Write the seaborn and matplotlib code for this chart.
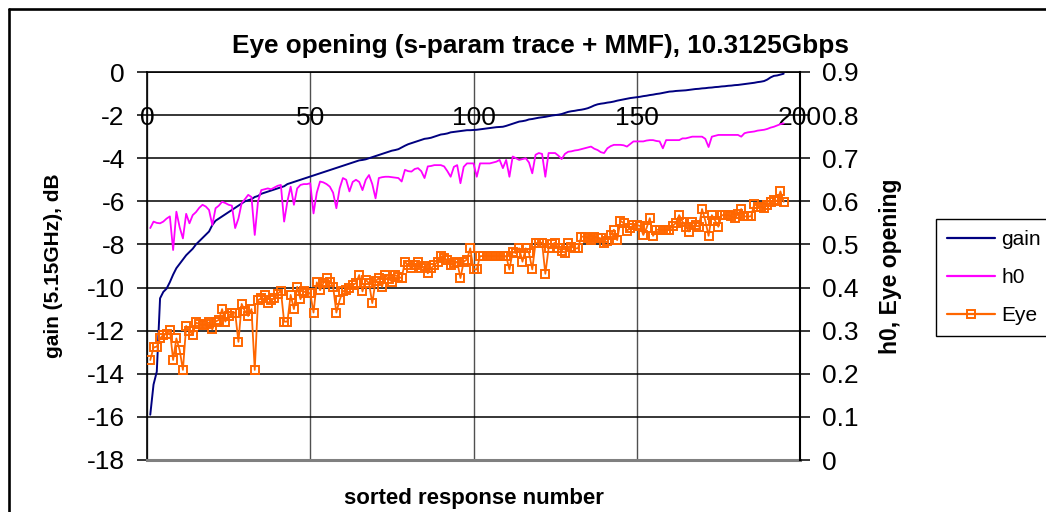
import matplotlib
matplotlib.use("Agg")
import matplotlib.pyplot as plt
import seaborn as sns
import pandas as pd
from matplotlib.lines import Line2D

# ---------------- data ----------------
title = "Eye opening (s-param trace + MMF), 10.3125Gbps"
x_label = "sorted response number"
left_label = "gain (5.15GHz), dB"
right_label = "h0, Eye opening"
series_names = ["gain", "h0", "Eye"]

x_ticks = [0, 50, 100, 150, 200]
gain_ticks = [0, -2, -4, -6, -8, -10, -12, -14, -16, -18]
right_ticks = [0, 0.1, 0.2, 0.3, 0.4, 0.5, 0.6, 0.7, 0.8, 0.9]
right_tick_labels = ["0", "0.1", "0.2", "0.3", "0.4", "0.5", "0.6", "0.7", "0.8", "0.9"]

gain = [
    -15.9, -14.5, -13.9, -10.5, -10.2, -10.05, -9.75, -9.4, -9.1, -8.9,
    -8.7, -8.5, -8.35, -8.2, -8.0, -7.85, -7.7, -7.55, -7.4, -7.1,
    -6.9, -6.8, -6.7, -6.6, -6.5, -6.4, -6.3, -6.2, -6.1, -6.0,
    -5.95, -5.9, -5.8, -5.75, -5.65, -5.6, -5.55, -5.5, -5.45, -5.4,
    -5.35, -5.3, -5.2, -5.15, -5.1, -5.05, -5.0, -4.95, -4.9, -4.85,
    -4.8, -4.75, -4.7, -4.65, -4.6, -4.55, -4.5, -4.45, -4.4, -4.35,
    -4.3, -4.25, -4.2, -4.15, -4.1, -4.08, -4.05, -4.0, -3.95, -3.9,
    -3.85, -3.8, -3.75, -3.7, -3.65, -3.62, -3.58, -3.5, -3.42, -3.35,
    -3.3, -3.25, -3.2, -3.15, -3.1, -3.08, -3.05, -3.0, -2.95, -2.9,
    -2.88, -2.85, -2.8, -2.78, -2.76, -2.74, -2.72, -2.7, -2.7, -2.69,
    -2.68, -2.66, -2.64, -2.62, -2.6, -2.58, -2.56, -2.55, -2.54, -2.5,
    -2.45, -2.4, -2.35, -2.3, -2.28, -2.25, -2.2, -2.18, -2.15, -2.12,
    -2.1, -2.08, -2.05, -2.02, -2.0, -1.98, -1.95, -1.9, -1.85, -1.82,
    -1.8, -1.77, -1.75, -1.72, -1.68, -1.62, -1.55, -1.5, -1.47, -1.45,
    -1.42, -1.4, -1.37, -1.33, -1.3, -1.27, -1.24, -1.21, -1.19, -1.17,
    -1.15, -1.12, -1.1, -1.07, -1.05, -1.02, -1.0, -0.97, -0.94, -0.91,
    -0.9, -0.88, -0.87, -0.86, -0.85, -0.83, -0.81, -0.79, -0.78, -0.76,
    -0.75, -0.73, -0.72, -0.7, -0.69, -0.67, -0.66, -0.64, -0.63, -0.61,
    -0.6, -0.58, -0.56, -0.54, -0.52, -0.5, -0.47, -0.45, -0.42, -0.35,
    -0.25, -0.18, -0.16, -0.12, -0.08,
]

h0 = [
    0.538, 0.553, 0.550, 0.549, 0.553, 0.560, 0.565, 0.487, 0.576, 0.540,
    0.514, 0.571, 0.549, 0.568, 0.575, 0.585, 0.592, 0.588, 0.580, 0.545,
    0.584, 0.590, 0.599, 0.596, 0.592, 0.590, 0.538, 0.560, 0.596, 0.605,
    0.615, 0.610, 0.522, 0.600, 0.626, 0.628, 0.630, 0.628, 0.632, 0.636,
    0.638, 0.553, 0.600, 0.634, 0.592, 0.630, 0.638, 0.640, 0.640, 0.642,
    0.572, 0.620, 0.646, 0.644, 0.640, 0.634, 0.620, 0.584, 0.630, 0.654,
    0.650, 0.623, 0.645, 0.650, 0.645, 0.626, 0.650, 0.661, 0.640, 0.607,
    0.654, 0.656, 0.657, 0.657, 0.656, 0.655, 0.654, 0.646, 0.673, 0.670,
    0.669, 0.675, 0.677, 0.670, 0.654, 0.681, 0.682, 0.684, 0.684, 0.684,
    0.681, 0.670, 0.657, 0.680, 0.684, 0.642, 0.680, 0.688, 0.688, 0.688,
    0.657, 0.688, 0.688, 0.688, 0.688, 0.690, 0.692, 0.696, 0.677, 0.696,
    0.657, 0.704, 0.700, 0.696, 0.698, 0.700, 0.690, 0.665, 0.708, 0.712,
    0.710, 0.657, 0.712, 0.712, 0.712, 0.706, 0.698, 0.710, 0.715, 0.716,
    0.718, 0.719, 0.721, 0.723, 0.725, 0.727, 0.722, 0.719, 0.714, 0.712,
    0.723, 0.728, 0.731, 0.731, 0.731, 0.730, 0.727, 0.733, 0.739, 0.739,
    0.739, 0.739, 0.741, 0.742, 0.742, 0.740, 0.739, 0.723, 0.742, 0.742,
    0.742, 0.742, 0.742, 0.746, 0.746, 0.748, 0.750, 0.750, 0.750, 0.750,
    0.745, 0.726, 0.750, 0.752, 0.754, 0.754, 0.754, 0.754, 0.754, 0.754,
    0.754, 0.750, 0.758, 0.760, 0.761, 0.762, 0.764, 0.765, 0.766, 0.768,
    0.771, 0.773, 0.776, 0.779, 0.781,
]

eye = [
    0.232, 0.261, 0.263, 0.282, 0.290, 0.292, 0.302, 0.232, 0.282, 0.255,
    0.209, 0.311, 0.300, 0.290, 0.319, 0.315, 0.313, 0.315, 0.319, 0.303,
    0.321, 0.325, 0.350, 0.321, 0.335, 0.342, 0.342, 0.274, 0.362, 0.345,
    0.334, 0.350, 0.209, 0.371, 0.375, 0.383, 0.364, 0.370, 0.375, 0.385,
    0.393, 0.321, 0.321, 0.383, 0.350, 0.402, 0.373, 0.391, 0.388, 0.387,
    0.342, 0.412, 0.394, 0.410, 0.422, 0.414, 0.402, 0.342, 0.371, 0.391,
    0.395, 0.398, 0.406, 0.410, 0.429, 0.391, 0.418, 0.410, 0.364, 0.415,
    0.422, 0.402, 0.429, 0.420, 0.414, 0.429, 0.425, 0.422, 0.460, 0.452,
    0.445, 0.452, 0.460, 0.445, 0.449, 0.433, 0.445, 0.452, 0.460, 0.473,
    0.468, 0.464, 0.452, 0.456, 0.460, 0.422, 0.460, 0.465, 0.491, 0.442,
    0.442, 0.473, 0.473, 0.473, 0.473, 0.473, 0.473, 0.473, 0.473, 0.473,
    0.442, 0.483, 0.480, 0.491, 0.460, 0.491, 0.480, 0.442, 0.503, 0.504,
    0.504, 0.432, 0.491, 0.500, 0.504, 0.491, 0.485, 0.481, 0.503, 0.495,
    0.491, 0.491, 0.518, 0.518, 0.515, 0.510, 0.518, 0.516, 0.514, 0.503,
    0.507, 0.522, 0.534, 0.510, 0.555, 0.549, 0.532, 0.538, 0.545, 0.545,
    0.543, 0.522, 0.538, 0.561, 0.520, 0.534, 0.534, 0.534, 0.534, 0.534,
    0.543, 0.550, 0.568, 0.553, 0.541, 0.530, 0.553, 0.545, 0.541, 0.582,
    0.555, 0.520, 0.568, 0.555, 0.541, 0.568, 0.568, 0.568, 0.565, 0.561,
    0.570, 0.582, 0.565, 0.565, 0.565, 0.594, 0.588, 0.588, 0.584, 0.592,
    0.599, 0.603, 0.600, 0.623, 0.599,
]

response = list(range(1, len(gain) + 1))

# ---------------- styling ----------------
sns.set_theme(style="white")
plt.rcParams["font.family"] = ["Liberation Sans", "DejaVu Sans"]
plt.rcParams["text.color"] = "black"
plt.rcParams["axes.labelcolor"] = "black"
plt.rcParams["xtick.color"] = "black"
plt.rcParams["ytick.color"] = "black"

C_GAIN = "#000080"
C_H0 = "#FF00FF"
C_EYE = "#FF6600"

W, H = 1046, 512
fig = plt.figure(figsize=(W / 100, H / 100), dpi=100)
fig.patch.set_facecolor("white")

L, R, T, B = 147, 800, 72, 460
ax = fig.add_axes([L / W, (H - B) / H, (R - L) / W, (B - T) / H])
ax.set_facecolor("white")

df = pd.DataFrame({"response": response, "gain": gain, "h0": h0, "eye": eye})

sns.lineplot(data=df, x="response", y="gain", ax=ax, color=C_GAIN, lw=1.4, zorder=3)
ax2 = ax.twinx()
sns.lineplot(data=df, x="response", y="h0", ax=ax2, color=C_H0, lw=1.3, zorder=3)
sns.lineplot(data=df, x="response", y="eye", ax=ax2, color=C_EYE, lw=1.3,
             marker="s", markersize=5.8, markerfacecolor="none",
             markeredgecolor=C_EYE, markeredgewidth=1.4, zorder=4)

ax.set_xlim(0, 200)
ax.set_ylim(-18, 0)
ax2.set_ylim(0, 0.9)

ax.set_yticks(gain_ticks)
ax.set_yticklabels([str(t) for t in gain_ticks])
ax2.set_yticks(right_ticks)
ax2.set_yticklabels(right_tick_labels)
ax.set_xticks(x_ticks)
ax.set_xticklabels([str(t) for t in x_ticks])

ax.yaxis.grid(True, color="black", lw=1.1)
ax.xaxis.grid(True, color="#505050", lw=1.0)
ax.set_axisbelow(True)

ax.tick_params(axis="x", bottom=False, labelbottom=False, top=False, labeltop=True,
               direction="in", length=0, pad=-42, labelsize=19, colors="black")
ax.tick_params(axis="y", left=True, direction="out", length=7, width=1.1,
               pad=9, labelsize=19, colors="black")
ax2.tick_params(axis="y", right=True, direction="out", length=7, width=1.1,
                pad=9, labelsize=19, colors="black")

for sp in ["left", "right", "top"]:
    ax.spines[sp].set_color("black")
    ax.spines[sp].set_linewidth(1.2)
ax.spines["bottom"].set_color("#808080")
ax.spines["bottom"].set_linewidth(2.2)
for sp in ax2.spines.values():
    sp.set_visible(False)
ax2.spines["right"].set_visible(True)
ax2.spines["right"].set_color("black")
ax2.spines["right"].set_linewidth(1.5)

ax.set_xlabel(x_label, fontsize=16, fontweight="bold", labelpad=20, color="black")
ax.set_ylabel(left_label, fontsize=15, fontweight="bold", color="black")
ax.yaxis.set_label_coords((63 - L) / (R - L), 0.5)
ax2.set_ylabel(right_label, fontsize=16.5, fontweight="bold", color="black")
ax2.yaxis.set_label_coords((879 - L) / (R - L), 0.5)

fig.text(540 / W, 1 - 46 / H, title, fontsize=18.8, fontweight="bold",
         ha="center", va="center", color="black")

handles = [
    Line2D([], [], color=C_GAIN, lw=1.6),
    Line2D([], [], color=C_H0, lw=1.6),
    Line2D([], [], color=C_EYE, lw=1.6, marker="s", markersize=5.5,
           markerfacecolor="none", markeredgecolor=C_EYE, markeredgewidth=1.4),
]
leg = fig.legend(handles, series_names, loc="upper left",
                 bbox_to_anchor=(936 / W, 1 - 219 / H), bbox_transform=fig.transFigure,
                 frameon=True, fancybox=False, edgecolor="black", framealpha=1,
                 fontsize=15, handlelength=2.3, handletextpad=0.3, borderpad=0.55,
                 labelspacing=0.9, borderaxespad=0, numpoints=1, labelcolor="black")
leg.get_frame().set_linewidth(1.0)

# outer chart frame (left and top edges visible)
fig.add_artist(Line2D([8.5 / W, 8.5 / W], [0, 1 - 8.5 / H], transform=fig.transFigure,
                      color="black", lw=1.9))
fig.add_artist(Line2D([8.5 / W, 1.0], [1 - 8.5 / H, 1 - 8.5 / H], transform=fig.transFigure,
                      color="black", lw=1.9))

fig.savefig("out.png", dpi=100, facecolor="white")
